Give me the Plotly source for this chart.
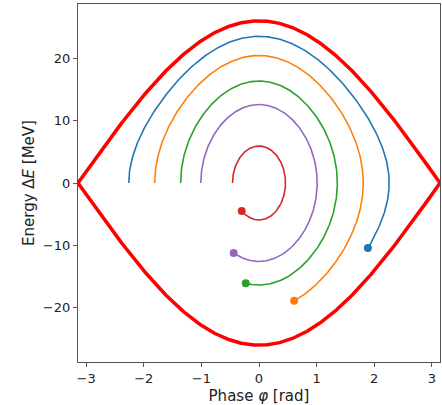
import numpy as np
import plotly.graph_objects as go

# Separatrix half-height at phi = 0 [MeV]
separatrix_amplitude = 26.0

# Each particle starts at rest in energy at a negative phase and is tracked
# clockwise over the bucket until it reaches its final phase (on the lower branch).
start_phase = [-2.26, -1.81, -1.36, -1.01, -0.46]
end_phase = [1.89, 0.61, -0.23, -0.44, -0.30]
colors = ["#1f77b4", "#ff7f0e", "#2ca02c", "#9467bd", "#d62728"]

x_ticks = [-3, -2, -1, 0, 1, 2, 3]
y_ticks = [-20, -10, 0, 10, 20]


def energy(phi, phi_turn, amp):
    """Energy deviation on the contour through (phi_turn, 0) of the pendulum Hamiltonian."""
    val = (np.cos(phi) - np.cos(phi_turn)) / 2.0
    return amp * np.sqrt(np.clip(val, 0.0, None))


fig = go.Figure()

# Separatrix: upper and lower branches
phi_sep = np.linspace(-np.pi, np.pi, 400)
for sign in (1, -1):
    fig.add_trace(go.Scatter(
        x=phi_sep, y=sign * energy(phi_sep, np.pi, separatrix_amplitude),
        mode="lines", line=dict(color="#ff0000", width=3.5),
        showlegend=False, hoverinfo="skip"))

for p0, p1, col in zip(start_phase, end_phase, colors):
    a = abs(p0)
    # upper branch from -a to +a, parameterised to resolve the turning points
    th = np.linspace(0, np.pi, 300)
    phi_up = -a * np.cos(th)
    e_up = energy(phi_up, a, separatrix_amplitude)
    # lower branch from +a back to the end phase
    th_end = np.arccos(np.clip(p1 / a, -1, 1))
    th2 = np.linspace(0, th_end, 300)
    phi_dn = a * np.cos(th2)
    e_dn = -energy(phi_dn, a, separatrix_amplitude)
    phi = np.concatenate([phi_up, phi_dn])
    e = np.concatenate([e_up, e_dn])
    fig.add_trace(go.Scatter(
        x=phi, y=e, mode="lines", line=dict(color=col, width=1.6),
        showlegend=False, hoverinfo="skip"))
    fig.add_trace(go.Scatter(
        x=[p1], y=[-energy(p1, a, separatrix_amplitude)], mode="markers",
        marker=dict(color=col, size=8), showlegend=False, hoverinfo="skip"))

axis_common = dict(
    showgrid=False, zeroline=False, showline=True, mirror=True,
    linecolor="#555555", linewidth=1.2, ticks="outside", ticklen=4,
    tickcolor="#555555", tickwidth=1.2,
    tickfont=dict(family="DejaVu Sans", size=13, color="#222222"),
)

fig.update_layout(
    width=442, height=405,
    margin=dict(l=78, r=2, t=4, b=43),
    paper_bgcolor="white", plot_bgcolor="white",
    xaxis=dict(range=[-np.pi, np.pi], tickvals=x_ticks,
               ticktext=["\u2212" + str(-t) if t < 0 else str(t) for t in x_ticks],
               title=dict(text="Phase <i>\u03c6</i> [rad]", standoff=6,
                          font=dict(family="DejaVu Sans", size=15, color="#222222")),
               **axis_common),
    yaxis=dict(range=[-28.7, 28.7], tickvals=y_ticks,
               ticktext=["\u2212" + str(-t) if t < 0 else str(t) for t in y_ticks],
               title=dict(text="Energy \u0394<i>E</i> [MeV]", standoff=4,
                          font=dict(family="DejaVu Sans", size=15, color="#222222")),
               **axis_common),
)

fig.write_html("out.html")
